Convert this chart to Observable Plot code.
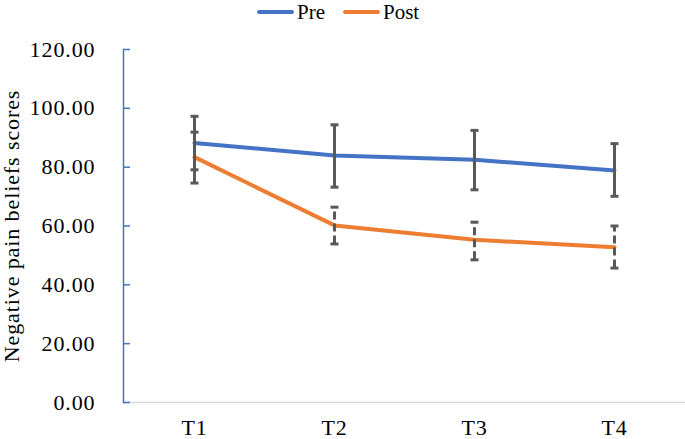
<!DOCTYPE html>
<html>
<head>
<meta charset="utf-8">
<script src="https://cdn.jsdelivr.net/npm/d3@7"></script>
<script src="https://cdn.jsdelivr.net/npm/@observablehq/plot@0.6"></script>
<style>
  html, body { margin: 0; padding: 0; background: #fff; }
  #legend { position: relative; height: 26px; font-family: "Liberation Serif", "Times New Roman", "DejaVu Serif", serif; font-size: 21px; color: #000; }
  #legend .item { position: absolute; top: 0; display: flex; align-items: center; height: 24px; line-height: 24px; }
  #legend .sw { width: 37px; height: 4px; border-radius: 2px; margin-right: 3px; }
  #chart svg { display: block; }
</style>
</head>
<body>
<div id="legend"></div>
<div id="chart"></div>
<script>
const categories = ["T1", "T2", "T3", "T4"];
const seriesNames = ["Pre", "Post"];
const seriesColors = ["#4472C4", "#ED7D31"];
const preMean = [88.2, 84.0, 82.5, 78.9];
const preLow  = [74.6, 73.2, 72.3, 70.1];
const preHigh = [97.3, 94.4, 92.5, 88.0];
const postMean = [83.4, 60.2, 55.3, 52.8];
const postLow  = [79.1, 53.9, 48.5, 45.7];
const postHigh = [91.9, 66.4, 61.3, 60.0];
const yTicks = [0, 20, 40, 60, 80, 100, 120];
const yLabel = "Negative pain beliefs scores";

const preRows = categories.map((t, i) => ({t, mean: preMean[i], low: preLow[i], high: preHigh[i]}));
const postRows = categories.map((t, i) => ({t, mean: postMean[i], low: postLow[i], high: postHigh[i]}));

const errColor = "#595959";
const capSymbol = { draw(ctx) { ctx.moveTo(-4, 0); ctx.lineTo(4, 0); } };
const serif = "'Liberation Serif', 'Times New Roman', 'DejaVu Serif', serif";

// legend
const legend = document.getElementById("legend");
const lefts = [257, 343];
seriesNames.forEach((name, i) => {
  const item = document.createElement("div");
  item.className = "item";
  item.style.left = lefts[i] + "px";
  const sw = document.createElement("span");
  sw.className = "sw";
  sw.style.background = seriesColors[i];
  const tx = document.createElement("span");
  tx.textContent = name;
  item.appendChild(sw); item.appendChild(tx);
  legend.appendChild(item);
});

const errMarks = (rows, dash) => [
  Plot.ruleX(rows, {x: "t", y1: "low", y2: "high", stroke: errColor, strokeWidth: 3, strokeDasharray: dash}),
  Plot.dot(rows, {x: "t", y: "low", symbol: capSymbol, stroke: errColor, strokeWidth: 3, fill: "none", r: 4}),
  Plot.dot(rows, {x: "t", y: "high", symbol: capSymbol, stroke: errColor, strokeWidth: 3, fill: "none", r: 4})
];

const chart = Plot.plot({
  width: 685,
  height: 413,
  marginTop: 23,
  marginBottom: 37,
  marginLeft: 123,
  marginRight: 0,
  style: {fontFamily: serif, fontSize: "22px", color: "#000", background: "#fff", letterSpacing: "0.9px"},
  x: {type: "point", domain: categories, padding: 0.5},
  y: {domain: [0, 120]},
  marks: [
    Plot.frame({anchor: "bottom", stroke: "#d9d9d9", strokeWidth: 1.5}),
    Plot.axisY({ticks: yTicks, tickSize: -7, tickFormat: () => "", stroke: "#4472C4", strokeWidth: 1.5, strokeOpacity: 1, label: null}),
    Plot.axisY({ticks: yTicks, tickSize: 0, tickPadding: 28, tickFormat: d => d.toFixed(2), fill: "#000", fontSize: 22,
      label: yLabel, labelAnchor: "center", labelArrow: "none", labelOffset: 120}),
    Plot.axisX({tickSize: 0, tickPadding: 17, label: null, fill: "#000", fontSize: 22}),
    Plot.frame({anchor: "left", stroke: "#4472C4", strokeWidth: 1.5}),
    Plot.line(preRows, {x: "t", y: "mean", stroke: seriesColors[0], strokeWidth: 4}),
    Plot.line(postRows, {x: "t", y: "mean", stroke: seriesColors[1], strokeWidth: 4}),
    ...errMarks(preRows, null),
    ...errMarks(postRows, "8,4")
  ]
});
document.getElementById("chart").appendChild(chart);
</script>
</body>
</html>
